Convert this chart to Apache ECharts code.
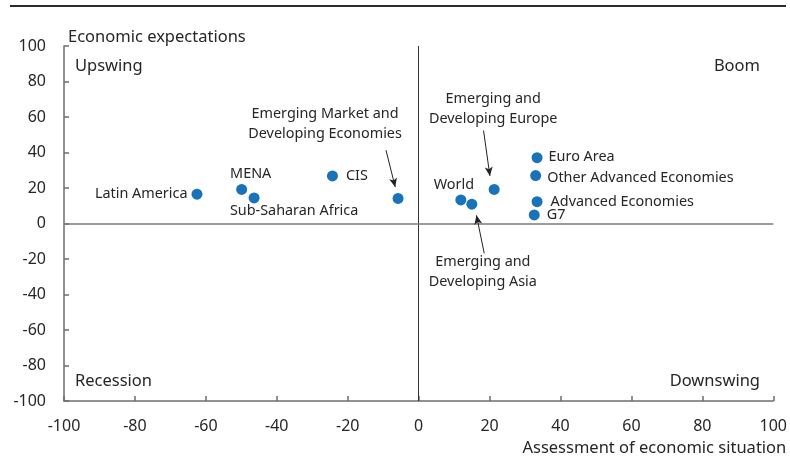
<!DOCTYPE html>
<html>
<head>
<meta charset="utf-8">
<script src="https://cdn.jsdelivr.net/npm/echarts@6/dist/echarts.min.js"></script>
<style>
  html, body { margin: 0; padding: 0; background: #fff; }
  #chart { width: 790px; height: 457px; }
</style>
</head>
<body>
<div id="chart"></div>
<script>
(function () {
  // region names and their positions (assessment, expectations)
  const regions = [
    "Latin America", "MENA", "Sub-Saharan Africa", "CIS",
    "Emerging Market and\nDeveloping Economies", "World",
    "Emerging and\nDeveloping Asia", "Emerging and\nDeveloping Europe",
    "Euro Area", "Other Advanced Economies", "Advanced Economies", "G7"
  ];
  const assessment = [-62.5, -49.9, -46.4, -24.3, -5.8, 11.9, 15.0, 21.3, 33.4, 33.0, 33.4, 32.6];
  const expectations = [16.5, 19.2, 14.4, 26.8, 14.1, 13.3, 10.9, 19.2, 37.1, 27.0, 12.3, 4.8];

  // arrows pointing from a label to its dot: [from, to]
  const arrows = [
    [[-9.2, 41.3], [-6.6, 20.5]],
    [[18.3, 52.4], [20.1, 26.8]],
    [[18.5, -16.8], [16.3, 4.6]]
  ];

  const quadrants = ["Upswing", "Boom", "Recession", "Downswing"];

  const textColor = "#262626";
  const font = "'Noto Sans', sans-serif";

  // where each label sits relative to its dot
  const labelPos = {
    "Latin America": { position: "left", distance: 4 },
    "MENA": { position: "inside", offset: [9, -16] },
    "Sub-Saharan Africa": { position: "inside", offset: [40, 13] },
    "CIS": { position: "right", distance: 8 },
    "Emerging Market and\nDeveloping Economies": { position: "inside", offset: [-73, -75] },
    "World": { position: "inside", offset: [-7, -15] },
    "Emerging and\nDeveloping Asia": { position: "inside", offset: [11, 68] },
    "Emerging and\nDeveloping Europe": { position: "inside", offset: [-1, -81] },
    "Euro Area": { position: "right", distance: 6, offset: [0, -1] },
    "Other Advanced Economies": { position: "right", distance: 6, offset: [0, 2] },
    "Advanced Economies": { position: "right", distance: 8 },
    "G7": { position: "right", distance: 7 }
  };

  const points = regions.map((name, i) => ({
    name: name,
    value: [assessment[i], expectations[i]],
    label: Object.assign({ show: true, formatter: name }, labelPos[name])
  }));

  const axisCommon = {
    type: "value",
    min: -100,
    max: 100,
    interval: 20,
    splitLine: { show: false },
    axisLine: { show: true, onZero: false, lineStyle: { color: "#6e6e6e", width: 1.5 } },
    axisTick: { show: true, inside: true, length: 5, lineStyle: { color: "#6e6e6e", width: 1.5 } },
    axisLabel: { color: textColor, fontSize: 16, fontFamily: font }
  };

  const chart = echarts.init(document.getElementById("chart"));

  const quadStyle = (text) => ({ text: text, fill: textColor, font: "16.5px " + font });

  const option = {
    animation: false,
    grid: { left: 64, right: 15, top: 46, bottom: 56 },
    xAxis: Object.assign({}, axisCommon, {
      name: "Assessment of economic situation",
      nameLocation: "end",
      nameGap: 13,
      nameTextStyle: {
        color: textColor, fontSize: 16.5, fontFamily: font,
        align: "right", verticalAlign: "top", padding: [39, 0, 0, 0]
      },
      axisLabel: Object.assign({}, axisCommon.axisLabel, { margin: 17 })
    }),
    yAxis: Object.assign({}, axisCommon, {
      name: "Economic expectations",
      nameLocation: "end",
      nameGap: 9,
      nameTextStyle: {
        color: textColor, fontSize: 16.5, fontFamily: font,
        align: "left", verticalAlign: "middle", padding: [0, 0, 0, 4]
      },
      axisLabel: Object.assign({}, axisCommon.axisLabel, { margin: 18 })
    }),
    graphic: [
      {
        type: "line",
        shape: { x1: 10, y1: 6, x2: 786, y2: 6 },
        style: { stroke: "#2b2b2b", lineWidth: 2 }
      },
      { type: "text", left: 75, top: 58, style: quadStyle(quadrants[0]) },
      { type: "text", right: 30, top: 58, style: quadStyle(quadrants[1]) },
      { type: "text", left: 75, top: 373, style: quadStyle(quadrants[2]) },
      { type: "text", right: 30, top: 373, style: quadStyle(quadrants[3]) }
    ],
    series: [
      {
        type: "scatter",
        symbolSize: 11,
        itemStyle: { color: "#1a73ba", opacity: 1 },
        label: { color: textColor, fontSize: 14.4, fontFamily: font, lineHeight: 20 },
        data: points,
        markLine: {
          silent: true,
          symbol: ["none", "none"],
          label: { show: false },
          data: [
            { xAxis: 0, lineStyle: { color: "#333", width: 1, type: "solid" } },
            { yAxis: 0, lineStyle: { color: "#7a7a7a", width: 1.5, type: "solid" } }
          ].concat(arrows.map(a => [
            { coord: a[0], symbol: "none", lineStyle: { color: "#222", width: 1, type: "solid" } },
            { coord: a[1], symbol: "arrow", symbolSize: [6, 9] }
          ]))
        },
        z: 3
      }
    ]
  };

  chart.setOption(option);

  window.addEventListener("resize", () => {
    chart.resize();
  });
})();
</script>
</body>
</html>
